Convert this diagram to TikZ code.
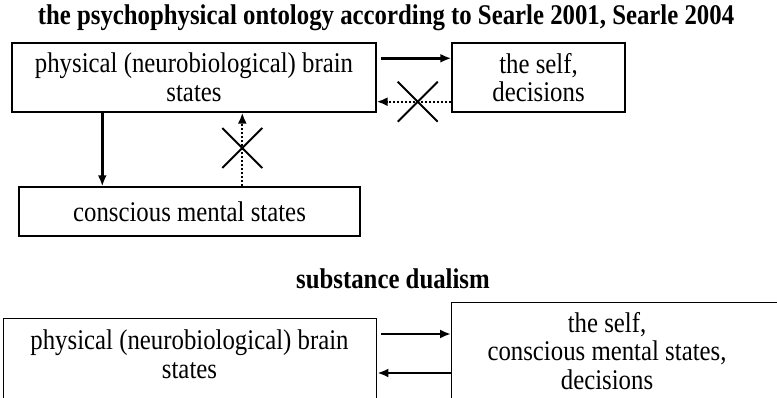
\documentclass[tikz,border=0pt]{standalone}
\usepackage{fontspec}
\setmainfont[FakeStretch=0.87]{Liberation Serif}
\usetikzlibrary{arrows.meta,shapes.misc}

\tikzset{
	box/.style={draw, line width=1.4pt, inner sep=0pt},
	txt/.style={align=center, font=\fontsize{28.5}{28.75}\selectfont},
	ttl/.style={font=\fontsize{28.5}{28.75}\selectfont\bfseries},
	arr/.style={line width=2.5pt, -{Latex[length=11pt,width=9pt]}},
	darr/.style={arr, line width=2pt, dotted},
	nogo/.style={cross out, draw, solid, line width=2pt, minimum width=38pt, minimum height=38pt, inner sep=0pt}
}

\begin{document}
\begin{tikzpicture}[x=1pt, y=-1pt]
				\useasboundingbox (0,0) rectangle (777,398);
				\clip (0,0) rectangle (777,398);
				
				% Searle
				\node[ttl] (title) at (386,18) {the psychophysical ontology according to Searle 2001, Searle 2004};
				\node[box, txt, minimum width=364pt, minimum height=69pt] (brain) at (194,77.5) {physical (neurobiological) brain\\states};
				\node[box, txt, minimum width=173pt, minimum height=69pt] (self) at (538.5,77.5) {the self,\\decisions};
				\node[box, txt, minimum width=341pt, minimum height=49pt] (mind) at (189.5,211.5) {conscious mental states};
				
				\draw[arr, shorten <=4pt] ([yshift=-16pt]brain.north east) -- ([yshift=-16pt]self.north west);
				\draw[darr] ([yshift=11pt]self.south west) -- ([yshift=11pt]brain.south east)
					node[nogo, pos=0.45] (xself) {};
				\draw[arr] ([xshift=91pt]brain.south west) -- ([xshift=84pt]mind.north west);
				\draw[darr] ([xshift=224pt]mind.north west) -- ([xshift=231pt]brain.south west)
					node[nogo, pos=0.52] (xmind) {};
				
				% dualism
				\node[ttl] (title2) at (393,279) {substance dualism};
				\node[box, minimum width=373pt, minimum height=120pt, anchor=north west] (brainb) at (3,318) {};
				\node[txt] (brainbtxt) at (189.5,354) {physical (neurobiological) brain\\states};
				\node[box, minimum width=340pt, minimum height=120pt, anchor=north west] (selfb) at (451,302) {};
				\node[txt] (selfbtxt) at (607,351) {the self,\\conscious mental states,\\decisions};
				
				\draw[arr, shorten <=4pt] ([yshift=-16pt]brainb.north east) -- ([yshift=-32pt]selfb.north west);
				\draw[arr] ([yshift=-71pt]selfb.north west) -- ([yshift=-55pt]brainb.north east);
			
\end{tikzpicture}
\end{document}
